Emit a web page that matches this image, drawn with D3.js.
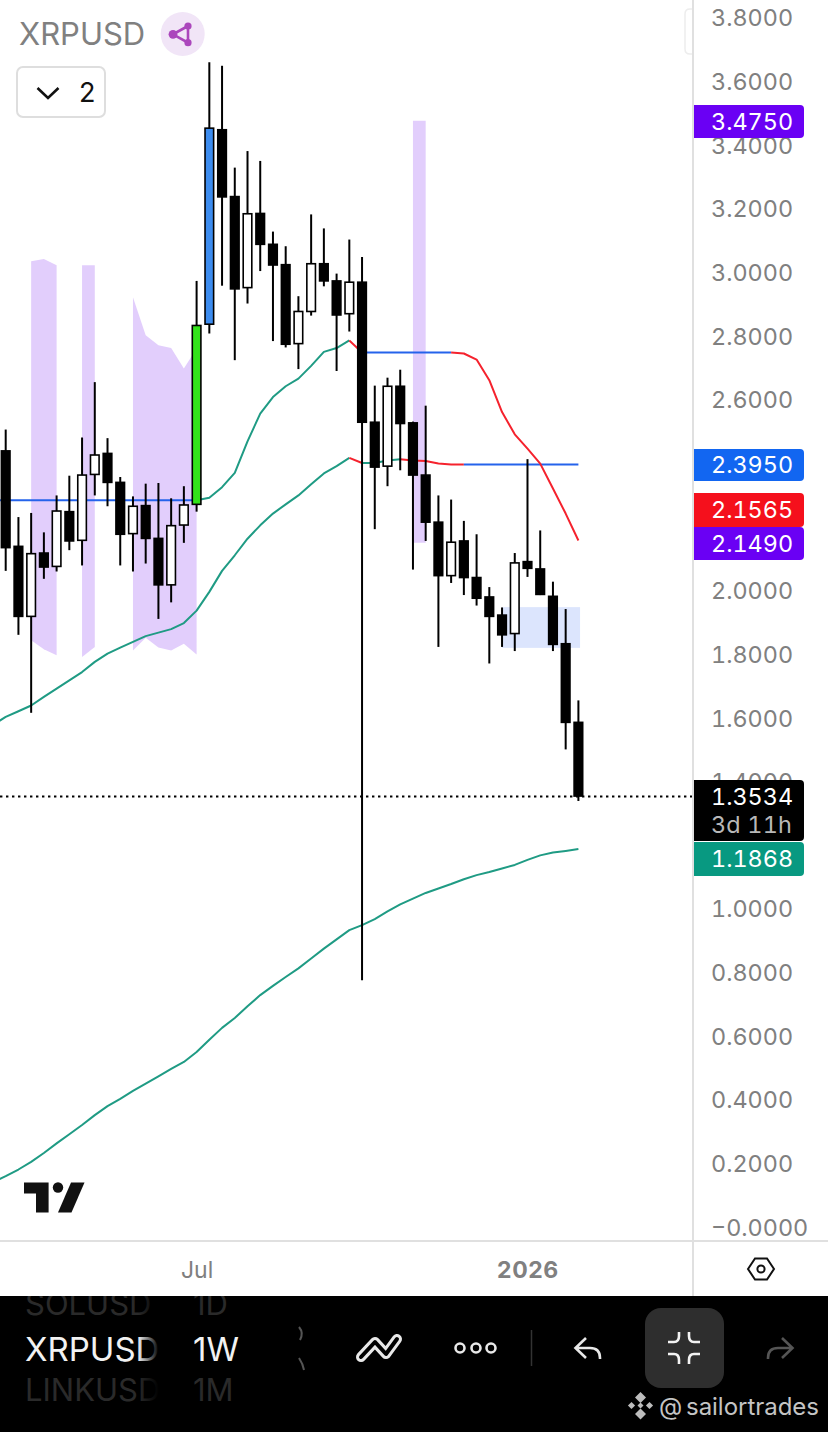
<!DOCTYPE html>
<html><head><meta charset="utf-8">
<script src="https://cdn.jsdelivr.net/npm/d3@7/dist/d3.min.js"></script>
<style>html,body{margin:0;padding:0;background:#fff;overflow:hidden}svg{display:block}text{font-family:Inter,"Noto Sans",sans-serif}.num{font-feature-settings:"tnum";font-variant-numeric:tabular-nums}</style>
</head><body><div id="c"></div>
<script>
// ---- data (weekly candles, index 0 = week of 2025-03-17) ----
const symbol = "XRPUSD";
const opens  = [2.438,2.138,1.918,2.117,2.075,2.247,2.157,2.364,2.430,2.339,2.178,2.266,2.163,2.017,2.205,2.270,2.836,3.447,3.237,2.951,3.184,3.087,3.023,2.775,2.876,3.026,2.972,2.869,2.968,2.528,2.390,2.641,2.526,2.362,2.214,2.046,2.155,2.040,1.979,1.922,1.864,2.090,2.067,1.981,1.832,1.585];
const highs  = [2.505,2.230,2.243,2.182,2.298,2.360,2.480,2.654,2.478,2.356,2.295,2.335,2.337,2.289,2.327,2.972,3.659,3.648,3.328,3.380,3.349,3.127,3.081,2.924,3.181,3.137,2.995,3.102,3.047,2.643,2.668,2.693,2.530,2.580,2.298,2.285,2.218,2.176,2.010,1.946,2.117,2.412,2.188,2.027,1.941,1.654];
const lows   = [2.061,1.860,1.615,2.036,2.059,2.126,2.078,2.298,2.264,2.078,2.059,2.084,1.910,1.962,2.149,2.247,2.807,2.957,2.723,2.901,3.003,2.783,2.763,2.695,2.863,2.955,2.689,2.813,0.775,2.192,2.327,2.377,2.065,2.155,1.822,2.023,1.985,1.952,1.770,1.822,1.809,2.042,1.985,1.809,1.500,1.338];
const closes = [2.134,1.918,2.115,2.073,2.249,2.155,2.362,2.425,2.339,2.176,2.264,2.163,2.017,2.203,2.268,2.832,3.452,3.236,2.947,3.183,3.087,3.022,2.773,2.876,3.026,2.972,2.865,2.968,2.528,2.387,2.641,2.524,2.362,2.214,2.046,2.151,2.040,1.975,1.918,1.860,2.086,2.069,1.987,1.830,1.585,1.3534];
const candleFills = {15:"#33E31B",16:"#3C8CEF"};

// moving averages, first value is the week before index 0
const emaLong  = [0.140,0.159,0.180,0.204,0.232,0.262,0.291,0.320,0.351,0.379,0.402,0.427,0.450,0.473,0.496,0.518,0.549,0.588,0.625,0.656,0.693,0.728,0.757,0.785,0.812,0.843,0.874,0.903,0.932,0.948,0.967,0.991,1.013,1.031,1.049,1.063,1.077,1.092,1.105,1.115,1.126,1.137,1.153,1.167,1.176,1.181,1.1868];
const emaMid   = [1.577,1.602,1.620,1.638,1.665,1.691,1.717,1.743,1.775,1.801,1.820,1.838,1.856,1.867,1.878,1.897,1.936,1.995,2.061,2.110,2.162,2.204,2.241,2.270,2.298,2.333,2.367,2.390,2.416,2.400,2.400,2.408,2.412,2.408,2.406,2.398,2.395,2.395,2.395,2.395,2.395,2.395,2.395,2.395,2.395,2.395,2.395];
const emaUpper = [2.283,2.283,2.283,2.283,2.283,2.283,2.283,2.283,2.283,2.283,2.283,2.283,2.283,2.283,2.283,2.283,2.283,2.291,2.324,2.369,2.468,2.555,2.607,2.641,2.665,2.705,2.749,2.761,2.785,2.747,2.747,2.747,2.747,2.747,2.747,2.747,2.747,2.744,2.725,2.660,2.560,2.490,2.445,2.398,2.320,2.241,2.1565];
const midSegments   = [[-1,27,"teal"],[27,28,"red"],[28,31,"teal"],[31,36,"red"],[36,45,"blue"]];
const upperSegments = [[-1,15,"blue"],[15,27,"teal"],[27,28,"red"],[28,35,"blue"],[35,45,"red"]];

// shaded purple zones: [week index, top price, bottom price]
const zone1 = [[2,3.034,1.843],[3,3.041,1.815],[4,3.021,1.796]];
const zone2 = [[6,3.021,1.790],[7,3.021,1.822]];
const zone3 = [[10,2.921,1.811],[11,2.801,1.851],[12,2.770,1.820],[13,2.761,1.811],[14,2.697,1.832],[15,2.760,1.798]];
const zone4 = [[32,3.475,2.149],[33,3.475,2.149]];
const blueBox = {from:39,to:45.13,top:1.947,bottom:1.819};

// 2.4, 2.2 and 1.2 sit fully behind the price tags in the reference
const priceTicks = [3.8,3.6,3.4,3.2,3.0,2.8,2.6,2.0,1.8,1.6,1.4,1.0,0.8,0.6,0.4,0.2,0];
const priceLabels = [
  {value:3.4750,text:"3.4750",color:"#6A00F4",top:105,bottom:138},
  {value:2.3950,text:"2.3950",color:"#1266F1",top:449,bottom:481},
  {value:2.1565,text:"2.1565",color:"#F5101C",top:493,bottom:527},
  {value:2.1490,text:"2.1490",color:"#6A00F4",top:527,bottom:560}
];
const lastPrice = 1.3534, lastPriceText = "1.3534", countdown = "3d 11h", emaLongText = "1.1868";
const timeTickWeeks = [15,41], timeTickLabels = ["Jul","2026"];

// ---- layout ----
const W=828,H=1432,axisX=693,axisY=1241,barY=1296;
const firstWeek = new Date(Date.UTC(2025,2,17));
const week = i => d3.utcMonday.offset(firstWeek,i);
const x = d3.scaleUtc().domain([week(0),week(45)]).range([5.7,578.4]);
const xi = i => x(new Date(+firstWeek + i*7*864e5));
const y = d3.scaleLinear().domain([0,3.8]).range([1226.8,17.4]);
const colors = {teal:"#1F9B84",red:"#F5222D",blue:"#2563EB"};
const grey="#808080";
const numSize="23.4px";

const svg = d3.select("#c").append("svg").attr("width",W).attr("height",H).attr("viewBox",`0 0 ${W} ${H}`);
const defs = svg.append("defs");
defs.append("clipPath").attr("id","plot").append("rect").attr("width",axisX).attr("height",axisY);
const fade = defs.append("linearGradient").attr("id","fade");
fade.append("stop").attr("offset",0).attr("stop-color","#000").attr("stop-opacity",0);
fade.append("stop").attr("offset",1).attr("stop-color","#000").attr("stop-opacity",1);

const plot = svg.append("g").attr("clip-path","url(#plot)");

// zones
const zoneArea = d3.area().x(d=>xi(d[0])).y0(d=>y(d[2])).y1(d=>y(d[1]));
plot.selectAll("path.zone").data([zone1,zone2,zone3,zone4]).join("path").attr("class","zone")
  .attr("d",zoneArea).attr("fill","#E2CEFC");
plot.append("rect").attr("x",xi(blueBox.from)).attr("width",xi(blueBox.to)-xi(blueBox.from))
  .attr("y",y(blueBox.top)).attr("height",y(blueBox.bottom)-y(blueBox.top)).attr("fill","#DCE5FD");

// lines
const line = d3.line().x(d=>xi(d.i)).y(d=>y(d.v));
const toPts = arr => arr.map((v,k)=>({i:k-1,v}));
function drawSegments(arr,segs){
  const pts = toPts(arr);
  segs.forEach(([a,b,c])=>{
    plot.append("path").attr("d",line(pts.filter(p=>p.i>=a&&p.i<=b)))
      .attr("fill","none").attr("stroke",colors[c]).attr("stroke-width",2).attr("stroke-linejoin","round");
  });
}
drawSegments(emaLong,[[-1,45,"teal"]]);
drawSegments(emaMid,midSegments);
drawSegments(emaUpper,upperSegments);

// candles
const candles = opens.map((o,i)=>({i,o,h:highs[i],l:lows[i],c:closes[i]}));
const cw = 8.6;
const cg = plot.selectAll("g.candle").data(candles).join("g").attr("class","candle");
cg.append("line").attr("x1",d=>xi(d.i)).attr("x2",d=>xi(d.i)).attr("y1",d=>y(d.h)).attr("y2",d=>y(d.l))
  .attr("stroke","#000").attr("stroke-width",2);
cg.append("rect").attr("x",d=>xi(d.i)-cw/2).attr("width",cw)
  .attr("y",d=>y(Math.max(d.o,d.c))).attr("height",d=>Math.max(1,Math.abs(y(d.o)-y(d.c))))
  .attr("fill",d=>candleFills[d.i]||(d.c>=d.o?"#fff":"#000")).attr("stroke","#000").attr("stroke-width",1.6);

// last price dotted
plot.append("line").attr("x1",0).attr("x2",axisX).attr("y1",y(lastPrice)+.4).attr("y2",y(lastPrice)+.4)
  .attr("stroke","#000").attr("stroke-width",2).attr("stroke-dasharray","2.4 3.6");

// watermark logo
const logo = svg.append("g").attr("fill","#111");
logo.append("path").attr("d","M24,1182.5H48.6V1212.5H36V1193.5H24Z");
logo.append("circle").attr("cx",58).attr("cy",1187.5).attr("r",5.2);
logo.append("path").attr("d","M84.5,1182.5H71L58,1212.5H71.5Z");

// frame lines
svg.append("line").attr("x1",axisX).attr("x2",axisX).attr("y1",0).attr("y2",barY).attr("stroke","#E0E0E0").attr("stroke-width",2);
svg.append("line").attr("x1",0).attr("x2",W).attr("y1",axisY).attr("y2",axisY).attr("stroke","#E0E0E0").attr("stroke-width",2);

// price axis
const yAxis = d3.axisRight(y).tickValues(priceTicks).tickSize(0).tickPadding(0)
  .tickFormat(v=> v<1e-9 ? "\u22120.0000" : v.toFixed(4));
const ya = svg.append("g").attr("transform","translate(711,0)").call(yAxis);
ya.select(".domain").remove();
ya.selectAll("text").attr("class","num").attr("x",0).attr("dy","0.36em").attr("fill",grey).style("font-size",numSize).style("font-family","Inter");

// time axis
const xAxis = d3.axisBottom(x).tickValues(timeTickWeeks.map(week)).tickSize(0).tickPadding(0)
  .tickFormat((d,i)=>timeTickLabels[i]);
const xa = svg.append("g").attr("transform",`translate(0,1270)`).call(xAxis);
xa.select(".domain").remove();
xa.selectAll("text").attr("y",0).attr("dy","0.36em").attr("fill",grey).style("font-size","23px").style("font-family","Inter")
  .attr("font-weight",(d,i)=>i==1?700:400).attr("letter-spacing",(d,i)=>i==1?"0.6":"0");

// price labels
function tag(top,bottom,color){
  const r=4,l=694,rr=804;
  svg.append("path").attr("fill",color)
    .attr("d",`M${l},${top}H${rr-r}Q${rr},${top} ${rr},${top+r}V${bottom-r}Q${rr},${bottom} ${rr-r},${bottom}H${l}Z`);
}
function tagText(t,cy,fill,ls){
  svg.append("text").attr("class","num").attr("x",711).attr("y",cy).attr("dy","0.36em").attr("fill",fill).attr("letter-spacing",ls||0).style("font-size",numSize).text(t);
}
priceLabels.forEach(p=>{ tag(p.top,p.bottom,p.color); tagText(p.text,(p.top+p.bottom)/2,"#fff"); });
tag(780,841,"#000"); tagText(lastPriceText,797,"#fff"); tagText(countdown,825,"#B8B8B8",0.2);
tag(842,876,"#089981"); tagText(emaLongText,859,"#fff");

// header
svg.append("text").attr("x",19).attr("y",45).attr("fill",grey).style("font-size","31px").text(symbol);
svg.append("circle").attr("cx",182.7).attr("cy",34).attr("r",22).attr("fill","#F1E5F7");
const net = svg.append("g");
net.append("path").attr("d","M188,26L173,34.3L188,42.7Z").attr("fill","none").attr("stroke","#AB47BC").attr("stroke-width",2.6);
[[188,26,3.6],[173,34.3,4.4],[188,42.7,3.6]].forEach(n=>net.append("circle").attr("cx",n[0]).attr("cy",n[1]).attr("r",n[2]).attr("fill","#AB47BC"));
svg.append("rect").attr("x",17).attr("y",67).attr("width",88).attr("height",50).attr("rx",6).attr("fill","#fff").attr("stroke","#DEDEDE").attr("stroke-width",2);
svg.append("path").attr("d","M37.5,88L48,98L58.5,88").attr("fill","none").attr("stroke","#111").attr("stroke-width",2.6);
svg.append("text").attr("x",79).attr("y",102).attr("fill","#111").style("font-size","27px").text("2");
svg.append("path").attr("d","M692,9H690Q685,9 685,14V49Q685,54 690,54H692").attr("fill","none").attr("stroke","#EDEDED").attr("stroke-width",1.5);

// settings hexagon
svg.append("path").attr("d","M748,1269L755,1258.5H767L774,1269L767,1279.5H755Z").attr("fill","none").attr("stroke","#111").attr("stroke-width",2);
svg.append("circle").attr("cx",761).attr("cy",1269).attr("r",3.6).attr("fill","none").attr("stroke","#111").attr("stroke-width",2);

// bottom bar
svg.append("rect").attr("y",barY).attr("width",W).attr("height",H-barY).attr("fill","#000");
const barClip = defs.append("clipPath").attr("id","bar"); barClip.append("rect").attr("y",barY).attr("width",W).attr("height",H-barY);
const rows = svg.append("g").attr("clip-path","url(#bar)");
[["SOLUSD","1D",1315,"#2A2A2A",31],["XRPUSD","1W",1361,"#F2F2F2",33],["LINKUSD","1M",1401,"#2A2A2A",31]].forEach(r=>{
  rows.append("text").attr("x",25).attr("y",r[2]).attr("fill",r[3]).style("font-size",r[4]+"px").text(r[0]);
  rows.append("text").attr("x",193).attr("y",r[2]).attr("fill",r[3]).style("font-size",r[4]+"px").text(r[1]);
});
svg.append("rect").attr("x",138).attr("y",barY).attr("width",21).attr("height",120).attr("fill","url(#fade)");
svg.append("rect").attr("x",159).attr("y",barY).attr("width",32).attr("height",120).attr("fill","#000");
svg.append("path").attr("d","M299,1327Q304,1333 300,1340M299,1358Q303,1364 304,1370").attr("fill","none").attr("stroke","#555").attr("stroke-width",2);
// drawing tools icon
svg.append("path").attr("d","M361,1357L375,1342L386,1354L397,1339").attr("fill","none").attr("stroke","#E8E8E8").attr("stroke-width",10).attr("stroke-linejoin","round").attr("stroke-linecap","round");
svg.append("path").attr("d","M361,1357L375,1342L386,1354L397,1339").attr("fill","none").attr("stroke","#000").attr("stroke-width",4).attr("stroke-linejoin","round").attr("stroke-linecap","round");
// more dots
[460,476,491].forEach(cx=>svg.append("circle").attr("cx",cx).attr("cy",1348).attr("r",4.5).attr("fill","none").attr("stroke","#E8E8E8").attr("stroke-width",2.6));
svg.append("line").attr("x1",531.5).attr("x2",531.5).attr("y1",1330).attr("y2",1366).attr("stroke","#333").attr("stroke-width",1.5);
// undo
svg.append("path").attr("d","M586,1338L575.5,1348L586,1358M575.5,1348H590Q600,1348 600,1358V1359").attr("fill","none").attr("stroke","#E8E8E8").attr("stroke-width",2.6);
// exit-fullscreen button
svg.append("rect").attr("x",645).attr("y",1308).attr("width",79).attr("height",80).attr("rx",16).attr("fill","#2E2E2E");
svg.append("path").attr("d","M668,1342H674Q679,1342 679,1336V1332M700,1342H694Q689,1342 689,1336V1332M668,1354H674Q679,1354 679,1360V1364M700,1354H694Q689,1354 689,1360V1364").attr("fill","none").attr("stroke","#F2F2F2").attr("stroke-width",2.6);
// redo
svg.append("path").attr("d","M782,1338L792.5,1348L782,1358M792.5,1348H778Q768,1348 768,1358V1359").attr("fill","none").attr("stroke","#555").attr("stroke-width",2.6);
// watermark
const bn = svg.append("g").attr("fill","#BDBDBD");
[[640.5,1397.5,5.5],[631.5,1405.5,3.6],[649.5,1405.5,3.6],[640.5,1405.5,3],[640.5,1414,5.5]].forEach(d=>bn.append("path").attr("d",`M${d[0]-d[2]},${d[1]}L${d[0]},${d[1]-d[2]}L${d[0]+d[2]},${d[1]}L${d[0]},${d[1]+d[2]}Z`));
svg.append("text").attr("x",659).attr("y",1415).attr("fill","#C4C4C4").style("font-size","24px").text("@");
svg.append("text").attr("x",686).attr("y",1415).attr("fill","#C4C4C4").style("font-size","24px").attr("textLength",133).text("sailortrades");
</script>
</body></html>
